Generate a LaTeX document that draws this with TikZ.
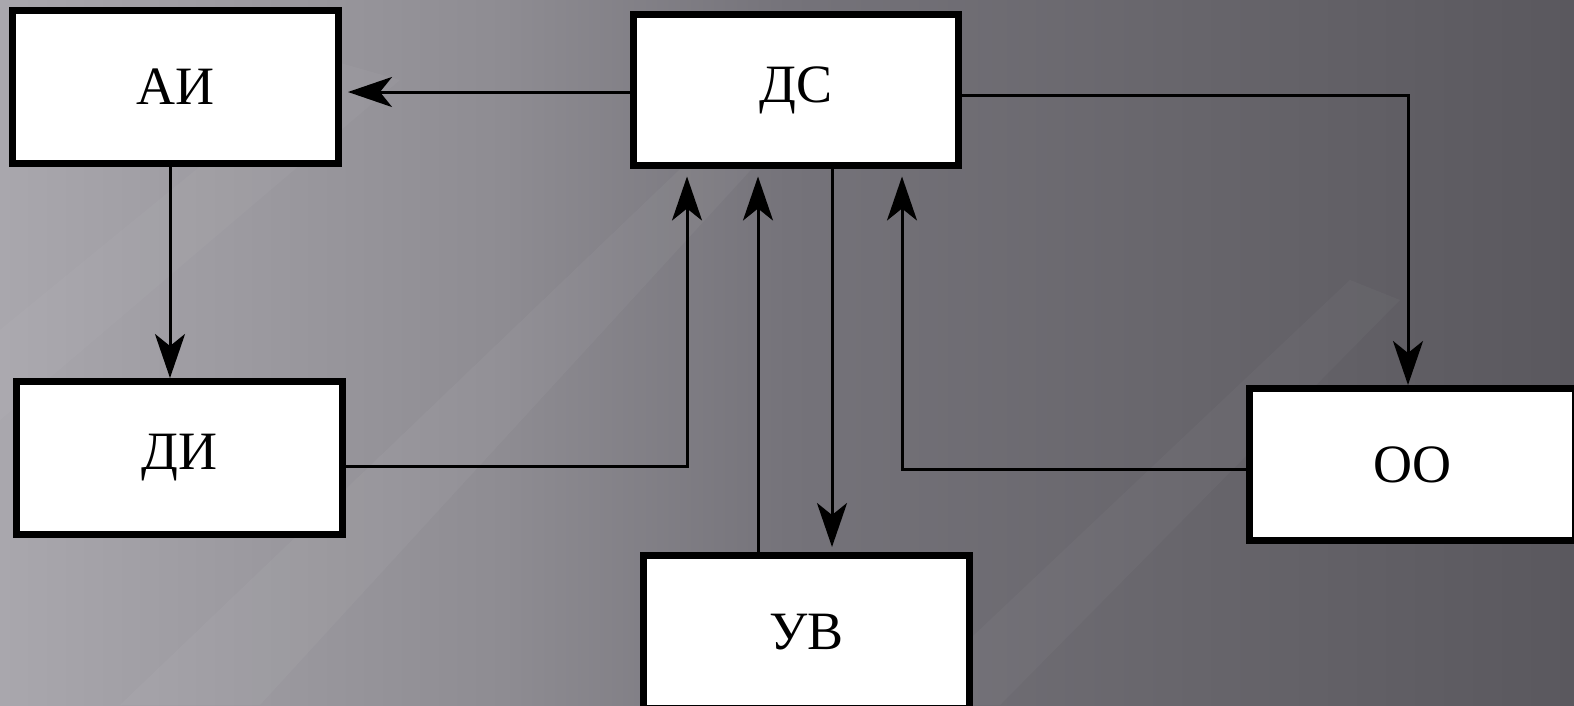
\documentclass[tikz,border=0pt]{standalone}
\usepackage{fontspec}
\setmainfont{Liberation Serif}
\usetikzlibrary{arrows.meta}
\definecolor{bgA}{HTML}{A9A7AD}
\definecolor{bgB}{HTML}{8E8C92}
\definecolor{bgC}{HTML}{75737A}
\definecolor{bgD}{HTML}{67656B}
\definecolor{bgE}{HTML}{5A585E}
\pgfdeclarehorizontalshading{bgshade}{100bp}{color(0bp)=(bgA); color(25bp)=(bgA); color(41bp)=(bgB); color(50bp)=(bgC); color(63bp)=(bgD); color(75bp)=(bgE); color(100bp)=(bgE)}
\tikzset{
  blockbox/.style={draw=black, fill=white, line width=7pt, inner sep=0pt,
    font=\fontsize{54}{60}\selectfont},
  conn/.style={line width=3pt, draw=black,
    -{Stealth[length=44pt, width=30pt, inset=12pt]}},
}
\begin{document}
\begin{tikzpicture}[x=1pt, y=-1pt]
\useasboundingbox (0,0) rectangle (1574,705);
\clip (0,0) rectangle (1574,705);
\shade[shading=bgshade] (0,0) rectangle (1574,705);
% faint diagonal light streaks
\fill[white, opacity=0.04] (120,705) -- (260,705) -- (760,160) -- (700,150) -- cycle;
\fill[white, opacity=0.03] (0,330) -- (0,420) -- (400,80) -- (330,60) -- cycle;
\fill[white, opacity=0.03] (900,705) -- (1000,705) -- (1400,300) -- (1350,280) -- cycle;

\node[blockbox, minimum width=326pt, minimum height=153pt] (ai) at (175.5,87) {АИ};
\node[blockbox, minimum width=325pt, minimum height=151pt] (ds) at (796,90) {ДС};
\node[blockbox, minimum width=326pt, minimum height=153pt] (di) at (179.5,458) {ДИ};
\node[blockbox, minimum width=326pt, minimum height=153pt] (uv) at (806.5,632) {УВ};
\node[blockbox, minimum width=326pt, minimum height=152pt] (oo) at (1412,464.5) {ОО};

% connectors
\draw[conn, shorten >=6pt] ([yshift=-2pt]ds.west) -- ([yshift=-2pt]ai.east |- ds.west);
\draw[conn] ([yshift=-5pt]ds.east) -| ([xshift=-4pt]oo.north);
\draw[conn] ([xshift=-5.5pt]ai.south) -- ([xshift=-5.5pt]ai.south |- di.north);
\draw[conn, shorten >=7.5pt] ([yshift=-8pt]di.east) -| ([xshift=-109pt]ds.south);
\draw[conn, shorten >=7.5pt] ([xshift=-48.5pt]uv.north) -- ([xshift=-38pt]ds.south);
\draw[conn, shorten >=5pt] ([xshift=36pt]ds.south) -- ([xshift=36pt]ds.south |- uv.north);
\draw[conn, shorten >=7.5pt] ([yshift=-4.5pt]oo.west) -| ([xshift=106pt]ds.south);
\end{tikzpicture}
\end{document}
